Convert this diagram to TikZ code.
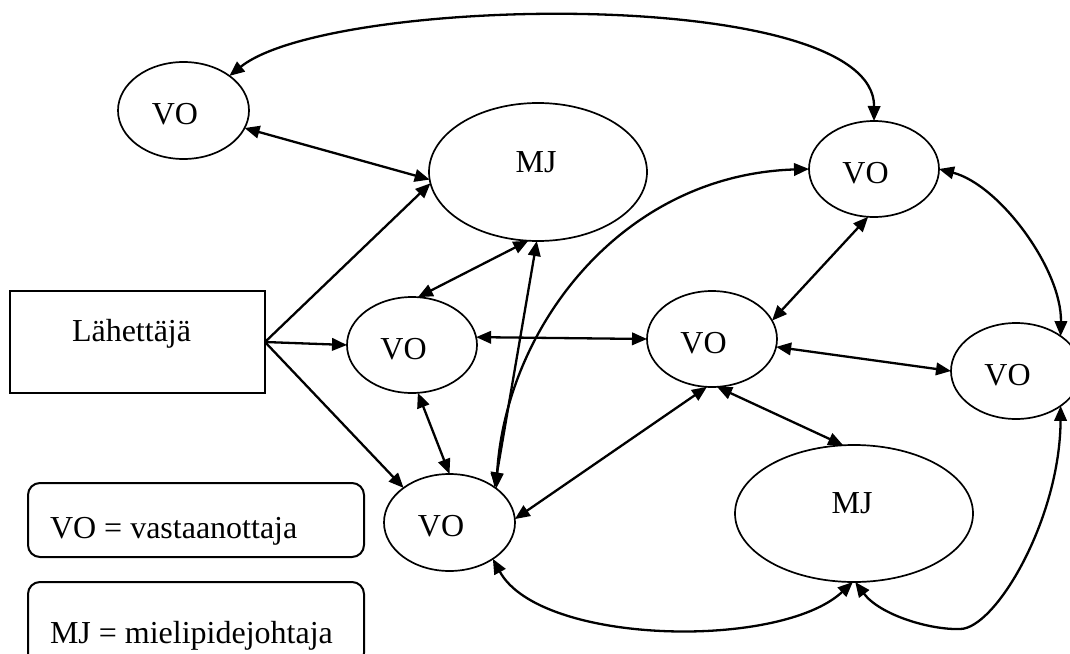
\documentclass[tikz,border=0pt]{standalone}
\usepackage{fontspec}
\setmainfont{Liberation Serif}
\usetikzlibrary{arrows.meta,shapes.geometric}
\begin{document}
\begin{tikzpicture}[x=1pt,y=1pt,
  every node/.style={inner sep=0pt, outer sep=0pt},
  person/.style={ellipse, draw, line width=1.7pt, minimum width=130pt, minimum height=96pt},
  leader/.style={ellipse, draw, line width=1.7pt},
  lbl/.style={font=\fontsize{32}{38}\selectfont, anchor=base},
  tip/.tip={Triangle[length=15pt,width=12.5pt]},
  link/.style={line width=2.3pt, tip-tip},
  send/.style={line width=2.3pt, -tip},
  legend/.style={draw, line width=2pt, rounded corners=12pt, minimum width=336pt},
]
\clip (0,0) rectangle (1070,-653);

% receivers, opinion leaders and the sender
\node[person, minimum width=131pt, minimum height=97pt] (vo1) at (183.5,-110.5) {};
\node[leader, minimum width=218pt, minimum height=138pt] (mj1) at (538,-172) {};
\node[person] (vo2) at (874,-169) {};
\node[draw, line width=2.4pt, minimum width=255pt, minimum height=102pt] (sender) at (137.5,-342) {};
\node[person] (vo3) at (412,-345) {};
\node[person] (vo4) at (712,-339) {};
\node[person] (vo5) at (1016,-371) {};
\node[person, minimum width=131pt, minimum height=97pt] (vo6) at (449.5,-522.5) {};
\node[leader, minimum width=238pt, minimum height=137pt] (mj2) at (854,-513.5) {};

% legend boxes
\node[legend, minimum height=74pt] (key1) at (196,-520) {};
\node[legend, minimum height=83pt] (key2) at (196,-623.5) {};

% texts
\node[lbl] (t1) at ([shift={(-8.5,-14)}]vo1.center) {VO};
\node[lbl] (t2) at ([shift={(-2,0)}]mj1.center) {MJ};
\node[lbl] (t3) at ([shift={(-8.5,-14)}]vo2.center) {VO};
\node[lbl] (t4) at ([shift={(-8.5,-14)}]vo3.center) {VO};
\node[lbl] (t5) at ([shift={(-8.5,-14)}]vo4.center) {VO};
\node[lbl] (t6) at ([shift={(-8.5,-14)}]vo5.center) {VO};
\node[lbl] (t7) at ([shift={(-8.5,-14)}]vo6.center) {VO};
\node[lbl] (t8) at ([shift={(-2,0)}]mj2.center) {MJ};
\node[lbl, anchor=base west] (tsend) at (72,-341.7) {Lähettäjä};
\node[lbl, anchor=base west] (tkey1) at (50,-538) {VO = vastaanottaja};
\node[lbl, anchor=base west] (tkey2) at (50,-643) {MJ = mielipidejohtaja};

% sender to its first receivers
\draw[send] (sender.east) -- (mj1.186);
\draw[send] (sender.east) -- (vo3.west);
\draw[send] (sender.east) -- (vo6.143);

% two-way links
\draw[link] (vo1.37) .. controls (330,5) and (875,15) .. (vo2.north);
\draw[link] (vo1.-16) -- (mj1.184);
\draw[link] (vo3.83) -- (mj1.-98);
\draw[link] (mj1.-91) -- (vo6.38);
\draw[link] (vo6.36) .. controls (505,-330) and (620,-175) .. (vo2.west);
\draw[link] (vo2.-97) -- (vo4.17);
\draw[link] (vo2.east) .. controls (1000,-185) and (1062,-270) .. (vo5.38);
\draw[link] (vo3.7) -- (vo4.west);
\draw[link] (vo4.-7) -- (vo5.west);
\draw[link] (vo4.-96) -- (vo6.3);
\draw[link] (vo4.-84) -- (mj2.99);
\draw[link] (vo3.-83) -- (vo6.north);
\draw[link] (vo6.-40) .. controls (540,-645) and (780,-650) .. (mj2.-91);
\draw[link] (mj2.-89) .. controls (880,-615) and (930,-630) .. (960,-629)
            .. controls (995,-629) and (1060,-520) .. (vo5.-38);
\end{tikzpicture}
\end{document}
